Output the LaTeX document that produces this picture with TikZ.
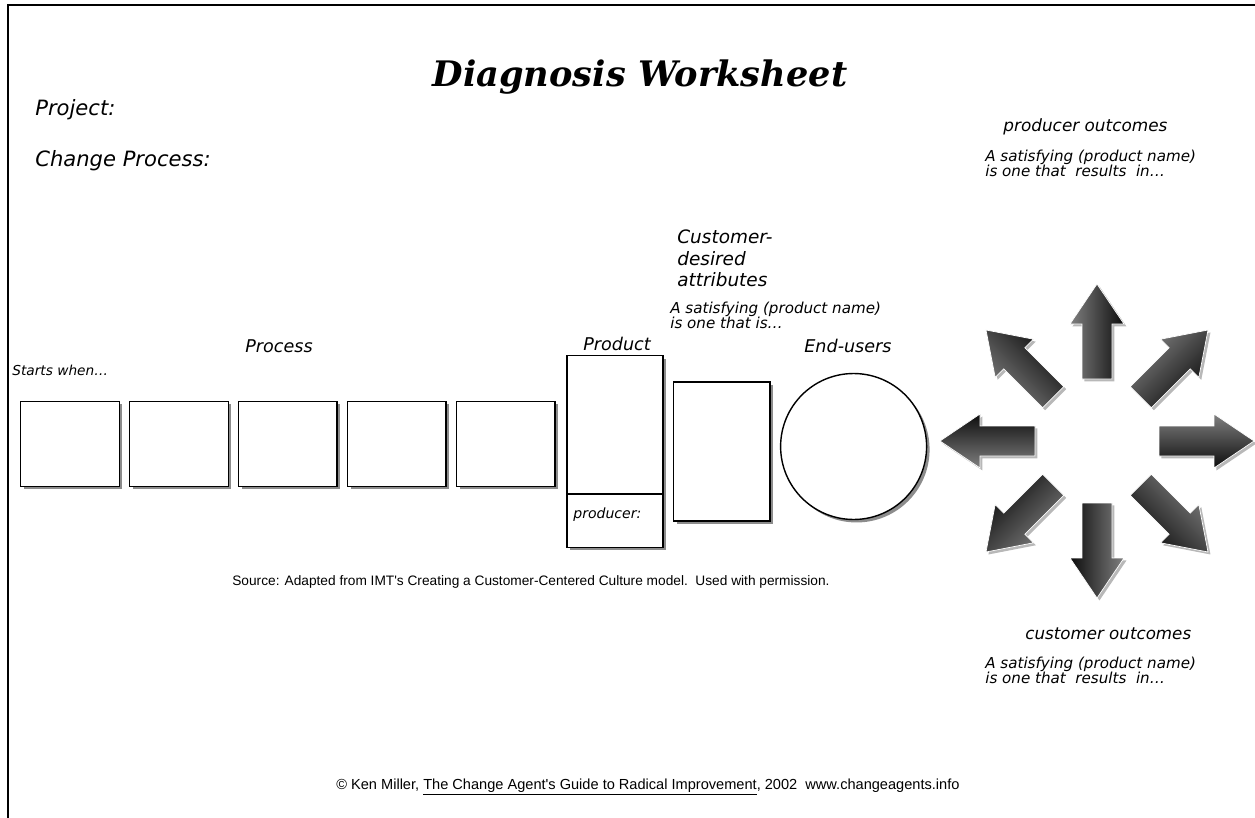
\documentclass[tikz,border=0pt]{standalone}
\usepackage{fontspec}
\newfontfamily\sheetfont{DejaVu Sans}
\newfontfamily\headfont{DejaVu Serif}
\newfontfamily\notefont{Liberation Sans}
\usetikzlibrary{positioning,shadows,calc}
\colorlet{penColor}{black}
\colorlet{shadowColor}{black!45}
\colorlet{arrowHead}{black!95}
\colorlet{arrowTail}{black!50}

\begin{document}
\begin{tikzpicture}[x=0.02cm,y=-0.02cm,
    box/.style={draw=penColor,line width=0.8pt,fill=white,inner sep=0pt,outer sep=0pt,
      drop shadow={shadow xshift=1.7pt,shadow yshift=-1.7pt,fill=shadowColor,opacity=1}},
    stepbox/.style={box,minimum width=1.97cm,minimum height=1.7cm},
    lbl/.style={inner sep=0pt,anchor=base west,font=\sheetfont\itshape\fontsize{#1}{#1}\selectfont},
    note/.style={inner sep=0pt,anchor=north west,align=left,
      font=\sheetfont\itshape\fontsize{8.6}{8.5}\selectfont},
    srcnote/.style={inner sep=0pt,anchor=base west,font=\notefont\fontsize{#1}{#1}\selectfont},
    spoke/.style={left color=arrowTail,right color=arrowHead,draw=white,line width=0.4pt,
      drop shadow={shadow xshift=1.4pt,shadow yshift=-1.4pt,fill=black!35,opacity=0.8}}]
  \useasboundingbox (0,0) rectangle (1255,818);
  % frame
  \draw[line width=1.7pt,penColor] (8,818) -- (8,5) -- (1255,5);

  % heading
  \node[inner sep=0pt,anchor=base,font=\headfont\bfseries\itshape\fontsize{20}{20}\selectfont] (title) at (640,86) {Diagnosis Worksheet};
  \node[lbl=12] (project) at (35,115) {Project:};
  \node[lbl=12] (change) at (35,166) {Change Process:};

  % process chain
  \node[stepbox] (p1) at (70,444) {};
  \node[stepbox,right=0.21cm of p1] (p2) {};
  \node[stepbox,right=0.21cm of p2] (p3) {};
  \node[stepbox,right=0.21cm of p3] (p4) {};
  \node[stepbox,right=0.21cm of p4] (p5) {};
  \node[lbl=10] (processlbl) at (245,352) {Process};
  \node[lbl=7.8] (starts) at (12,375) {Starts when\ldots};

  % product
  \node[box,minimum width=1.92cm,minimum height=3.84cm,right=0.24cm of p5,yshift=-0.15cm] (prod) {};
  \coordinate (split) at (616,494);
  \draw[penColor,line width=0.6pt] (prod.west |- split) -- (prod.east |- split);
  \node[lbl=10] (prodlbl) at (583,350) {Product};
  \node[lbl=8] (producer) at (573,518) {producer:};

  % customer-desired attributes
  \node[box,minimum width=1.93cm,minimum height=2.78cm,right=0.21cm of prod] (attr) {};
  \node[inner sep=0pt,anchor=north west,align=left,
    font=\sheetfont\itshape\fontsize{10.5}{12.5}\selectfont] (attrlbl) at (677,229) {Customer-\\desired\\attributes};
  \node[note] (attrnote) at (670,302) {A satisfying (product name)\\is one that is\ldots};

  % end-users
  \node[box,circle,minimum size=2.92cm,right=0.21cm of attr,yshift=0.1cm] (users) {};
  \node[lbl=10] (userlbl) at (804,352) {End-users};

  % outcome arrows
  \coordinate (hub) at (1097,441);
  \foreach \d in {0,45,...,315}{
    \path[spoke,shading angle=-\d]
      ($(hub)+(\d:62)+(\d+90:15)$) -- ($(hub)+(\d:117)+(\d+90:15)$) --
      ($(hub)+(\d:117)+(\d+90:27)$) -- ($(hub)+(\d:157)$) --
      ($(hub)+(\d:117)+(\d-90:27)$) -- ($(hub)+(\d:117)+(\d-90:15)$) --
      ($(hub)+(\d:62)+(\d-90:15)$) -- cycle;
  }

  % outcomes
  \node[lbl=9.6] (prodout) at (1003,131) {producer outcomes};
  \node[note] (prodnote) at (985,150) {A satisfying (product name)\\is one that\ \ results\ \ in\ldots};
  \node[lbl=9.5] (custout) at (1025,639) {customer outcomes};
  \node[note] (custnote) at (985,657) {A satisfying (product name)\\is one that\ \ results\ \ in\ldots};

  % sources
  \node[srcnote=7.8] (source) at (232,585) {Source: Adapted from IMT's Creating a Customer-Centered Culture model.\ \ Used with permission.};
  \node[srcnote=8.3] (credit) at (336,789) {\textcopyright\ Ken Miller, \underline{The Change Agent's Guide to Radical Improvement}, 2002\ \ www.changeagents.info};
\end{tikzpicture}
\end{document}
